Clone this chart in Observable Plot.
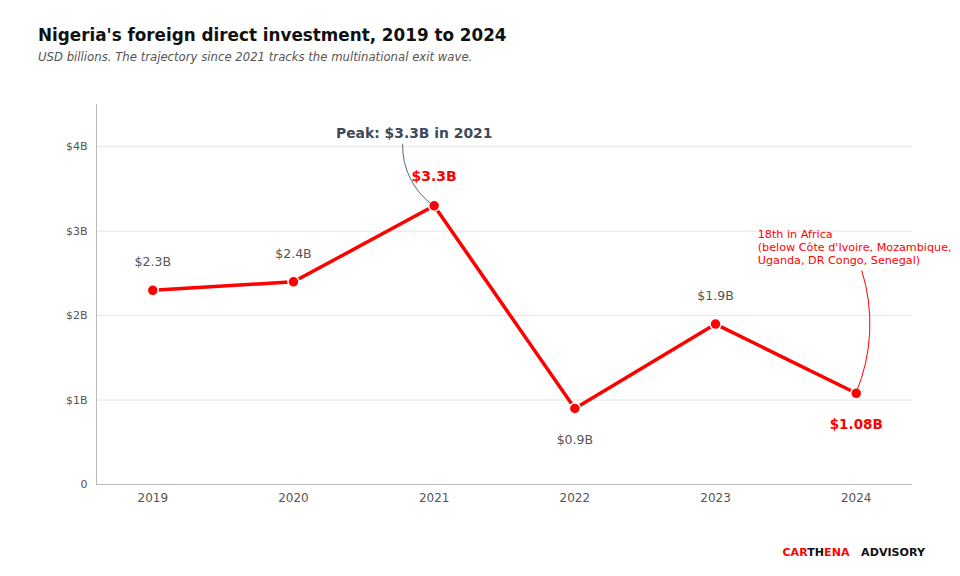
<!DOCTYPE html>
<html><head><meta charset="utf-8">
<script src="https://cdn.jsdelivr.net/npm/d3@7"></script>
<script src="https://cdn.jsdelivr.net/npm/@observablehq/plot@0.6"></script>
<style>
body{margin:0;background:#fff;font-family:"DejaVu Sans",sans-serif;width:960px;height:576px;position:relative;overflow:hidden}
#title{position:absolute;left:38px;top:25px;font-size:16.8px;font-weight:bold;color:#111;line-height:20px}
#sub{position:absolute;left:38px;top:49px;font-size:11.7px;font-style:italic;color:#555;line-height:16px}
#chart{position:absolute;left:0;top:80px}
#foot{position:absolute;right:35px;top:546px;font-size:11.1px;font-weight:bold;color:#111;line-height:14px;white-space:pre}
#foot .r{color:#ff0000}
</style></head><body>
<div id="title">Nigeria's foreign direct investment, 2019 to 2024</div>
<div id="sub">USD billions. The trajectory since 2021 tracks the multinational exit wave.</div>
<div id="chart"></div>
<div id="foot"><span class="r">CAR</span>TH<span class="r">ENA</span>   ADVISORY</div>
<script>
const years = [2019, 2020, 2021, 2022, 2023, 2024];
const fdi = [2.3, 2.4, 3.3, 0.9, 1.9, 1.08];
const labels = ["$2.3B", "$2.4B", "$3.3B", "$0.9B", "$1.9B", "$1.08B"];
const labelBelow = [false, false, false, true, false, true];
const labelHighlight = [false, false, true, false, false, true];
const yTicks = [0, 1, 2, 3, 4];
const yTickLabels = ["0", "$1B", "$2B", "$3B", "$4B"];
const peakNote = "Peak: $3.3B in 2021";
const africaNote = ["18th in Africa", "(below Côte d'Ivoire, Mozambique,", "Uganda, DR Congo, Senegal)"];

const data = years.map((y, i) => ({year: y, v: fdi[i], label: labels[i], below: labelBelow[i], hi: labelHighlight[i]}));
const red = "#ff0000";
const grey = "#555";

const chart = Plot.plot({
  width: 960, height: 440,
  marginLeft: 96, marginRight: 48, marginTop: 24, marginBottom: 36,
  style: {fontFamily: "DejaVu Sans, sans-serif", fontSize: "12px", color: grey, background: "transparent"},
  x: {domain: [2018.6, 2024.4], label: null},
  y: {domain: [0, 4.5], label: null},
  marks: [
    Plot.gridY(yTicks.filter(t => t > 0), {stroke: "#e5e5e5", strokeOpacity: 1}),
    Plot.ruleY([0], {stroke: "#bbb"}),
    Plot.ruleX([2018.6], {stroke: "#bbb"}),
    Plot.axisX({ticks: years, tickFormat: d => String(d), tickSize: 0, tickPadding: 9, label: null, fontSize: 12, fill: grey}),
    Plot.axisY({ticks: yTicks, tickFormat: d => yTickLabels[yTicks.indexOf(d)], tickSize: 0, tickPadding: 9, label: null, fontSize: 11, fill: grey}),
    Plot.line(data, {x: "year", y: "v", stroke: red, strokeWidth: 3.5}),
    Plot.dot(data, {x: "year", y: "v", r: 5.5, fill: red, stroke: "white", strokeWidth: 1.5}),
    Plot.text(data.filter(d => !d.hi && !d.below), {x: "year", y: "v", text: "label", dy: -28, fill: grey, fontSize: 12.5}),
    Plot.text(data.filter(d => !d.hi && d.below), {x: "year", y: "v", text: "label", dy: 31, fill: grey, fontSize: 12.5}),
    Plot.text(data.filter(d => d.hi && !d.below), {x: "year", y: "v", text: "label", dy: -29, fill: red, fontSize: 14, fontWeight: "bold"}),
    Plot.text(data.filter(d => d.hi && d.below), {x: "year", y: "v", text: "label", dy: 31, fill: red, fontSize: 13.5, fontWeight: "bold"}),
    Plot.arrow([{x1: 2020.776, y1: 4.03, x2: 2020.99, y2: 3.31}], {x1: "x1", y1: "y1", x2: "x2", y2: "y2", bend: -28, stroke: "#4a5568", strokeWidth: 0.9, headLength: 0}),
    Plot.arrow([{x1: 2024.04, y1: 2.53, x2: 2024.0, y2: 1.09}], {x1: "x1", y1: "y1", x2: "x2", y2: "y2", bend: 20, stroke: red, strokeWidth: 1, headLength: 0}),
    Plot.text([peakNote], {x: 2020.858, y: 4.155, text: d => d, fill: "#3d4a5c", fontWeight: "bold", fontSize: 13.9}),
    Plot.text([africaNote.join("\n")], {x: 2023.30, y: 2.96, text: d => d, fill: red, fontSize: 11.2, textAnchor: "start", lineAnchor: "top", lineHeight: 1.16, dy: -6})
  ]
});
document.getElementById("chart").append(chart);
</script>
</body></html>
